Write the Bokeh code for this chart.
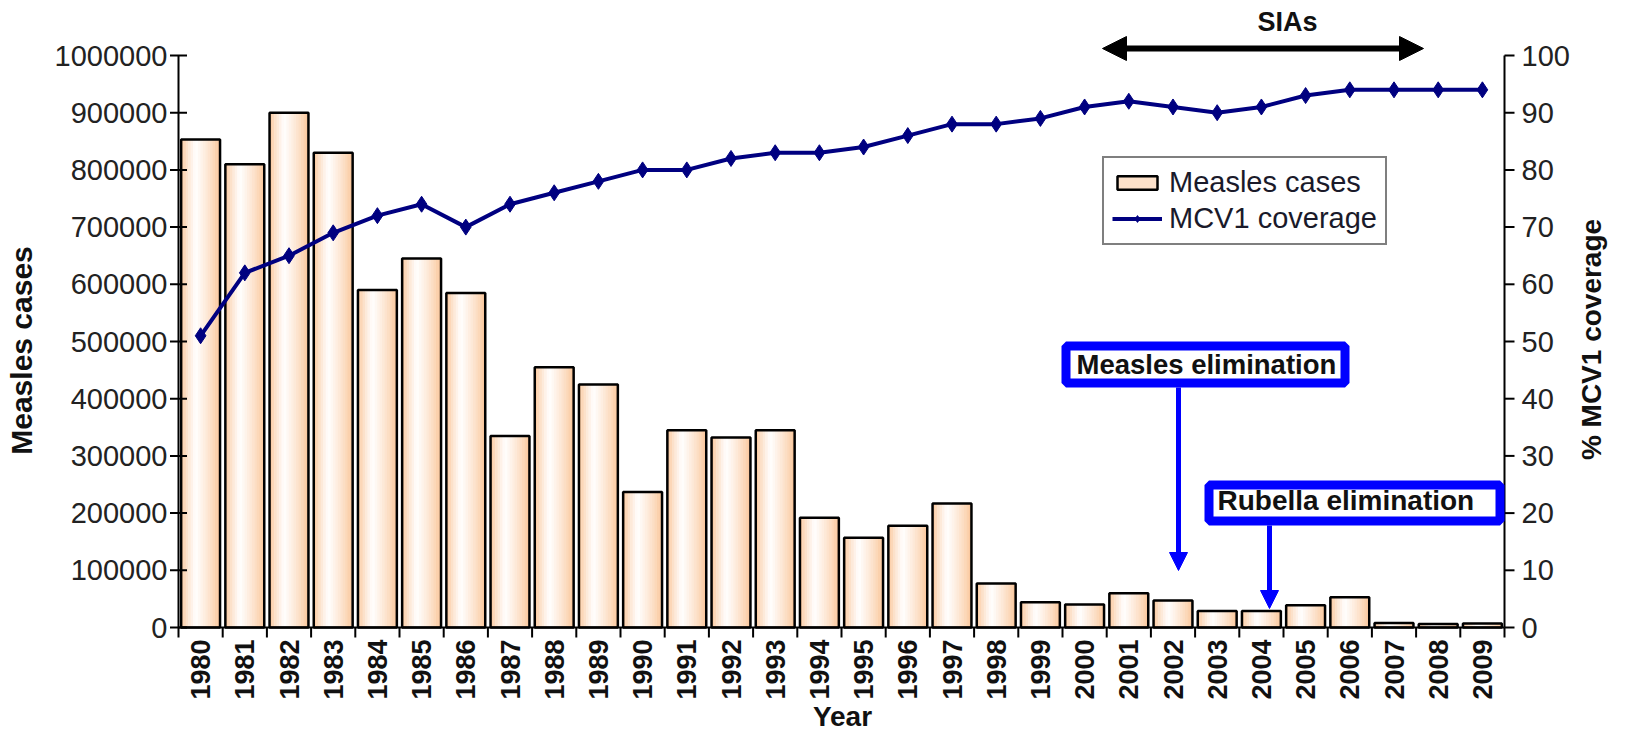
import numpy as np
from bokeh.plotting import figure
from bokeh.models import (Range1d, Legend, LegendItem, Arrow, NormalHead, Label, BoxAnnotation)
from bokeh.core.properties import value
from bokeh.embed import file_html
from bokeh.resources import INLINE

# ---------------- data ----------------
years = [str(y) for y in range(1980, 2010)]
measles_cases = [853000, 810000, 900000, 830000, 590000, 645000, 585000, 335000, 455000, 425000,
                 237000, 345000, 332000, 345000, 192000, 157000, 178000, 217000, 77000, 44000,
                 40000, 60000, 47000, 29000, 29000, 39000, 53000, 8000, 6000, 7000]
mcv1_coverage = [51, 62, 65, 69, 72, 74, 70, 74, 76, 78, 80, 80, 82, 83, 83, 84, 86, 88, 88, 89,
                 91, 92, 91, 90, 91, 93, 94, 94, 94, 94]
left_ticks = list(range(0, 1000001, 100000))
right_ticks = list(range(0, 101, 10))

# ---------------- layout (pixel geometry of the canvas) ----------------
W, H = 1612, 732
PX_LEFT, PX_CAT, PX_ZERO, PX_MILLION = 178, 44.2, 627, 572.0


def X(px):
    return (px - PX_LEFT) / PX_CAT - 0.5


def Y(py):
    return (PX_ZERO - py) / PX_MILLION * 1e6


FONT = "Liberation Sans"
TXT = "#111111"
n = len(years)
idx = np.arange(n)
x_lo, x_hi = -0.5, n - 0.5

p = figure(width=W, height=H, x_range=Range1d(X(0), X(W)), y_range=Range1d(Y(H), Y(0)),
           x_axis_type=None, y_axis_type=None, output_backend="svg", toolbar_location=None,
           min_border=0, min_border_left=0, min_border_right=0, min_border_top=0,
           min_border_bottom=0)
p.outline_line_color = None
p.grid.visible = False
p.extra_y_ranges = {"cov": Range1d(Y(H) / 10000, Y(0) / 10000)}

# ---- bars with horizontal gradient (peach -> white -> peach) ----
BAR_W = 0.88
N = 16
peach = np.array([250, 196, 150])
white = np.array([255, 255, 255])
strip_renderers = []
for k in range(N):
    t = (k + 0.5) / N
    f = t / 0.38 if t < 0.38 else 1 - (t - 0.38) / 0.62
    f = f ** 0.8
    c = peach + (white - peach) * f
    col = "#%02x%02x%02x" % tuple(int(round(v)) for v in c)
    off = -BAR_W / 2 + (k + 0.5) * BAR_W / N
    r = p.vbar(x=idx + off, top=measles_cases, width=BAR_W / N * 1.2, bottom=0,
               fill_color=col, line_color=None)
    strip_renderers.append((t, r))
outline = p.vbar(x=idx, top=measles_cases, width=BAR_W, bottom=0,
                 fill_color=None, line_color="black", line_width=2.5)
legend_strip = min(strip_renderers, key=lambda tr: abs(tr[0] - 0.15))[1]

# ---- coverage line ----
ln = p.line(idx, mcv1_coverage, y_range_name="cov", line_color="#000080", line_width=4)
sc = p.scatter(idx, mcv1_coverage, y_range_name="cov", marker="diamond", size=16,
               fill_color="#000080", line_color="#000080")

# ---- left axis (measles cases) ----
p.segment(x0=[x_lo], y0=[0], x1=[x_lo], y1=[left_ticks[-1]], line_color="black", line_width=2)
p.scatter(x=[x_lo] * len(left_ticks), y=left_ticks, marker="dash", size=17,
          line_color="black", line_width=2)
p.text(x=[x_lo] * len(left_ticks), y=left_ticks, text=[str(v) for v in left_ticks],
       x_offset=-11, text_align="right", text_baseline="middle", text_font=value(FONT),
       text_font_size="29px", text_color="#222222")
p.add_layout(Label(x=X(21), y=Y(350), text="Measles cases", angle=np.pi / 2,
                   text_align="center", text_baseline="middle", text_font=FONT,
                   text_font_style="bold", text_font_size="30px", text_color=TXT))

# ---- right axis (% coverage) ----
p.segment(x0=[x_hi], y0=[0], x1=[x_hi], y1=[right_ticks[-1]], y_range_name="cov",
          line_color="black", line_width=2)
p.ray(x=[x_hi] * len(right_ticks), y=right_ticks, length=10, length_units="screen", angle=0,
      y_range_name="cov", line_color="black", line_width=2)
p.text(x=[x_hi] * len(right_ticks), y=right_ticks, text=[str(v) for v in right_ticks],
       y_range_name="cov", x_offset=17, text_align="left", text_baseline="middle",
       text_font=value(FONT), text_font_size="29px", text_color="#222222")
p.add_layout(Label(x=X(1591), y=Y(339), text="% MCV1 coverage", angle=np.pi / 2,
                   text_align="center", text_baseline="middle", text_font=FONT,
                   text_font_style="bold", text_font_size="28px", text_color=TXT))

# ---- bottom axis (years) ----
p.segment(x0=[x_lo], y0=[0], x1=[x_hi], y1=[0], line_color="black", line_width=2)
bounds = [i - 0.5 for i in range(n + 1)]
p.ray(x=bounds, y=[0] * len(bounds), length=10, length_units="screen", angle=-np.pi / 2,
      line_color="black", line_width=2)
p.text(x=idx, y=[0] * n, text=years, angle=np.pi / 2, y_offset=12, text_align="right",
       text_baseline="middle", text_font=value(FONT), text_font_style="bold",
       text_font_size="27px", text_color=TXT)
p.add_layout(Label(x=X(842), y=Y(716), text="Year", text_align="center",
                   text_baseline="middle", text_font=FONT, text_font_style="bold",
                   text_font_size="28px", text_color=TXT))

# ---- legend ----
legend = Legend(items=[LegendItem(label="Measles cases", renderers=[legend_strip, outline]),
                       LegendItem(label="MCV1 coverage", renderers=[ln, sc])],
                location=(1102, H - 245))
legend.border_line_color = "black"
legend.border_line_width = 2
legend.background_fill_color = "white"
legend.background_fill_alpha = 1
legend.label_text_font = FONT
legend.label_text_font_size = "29px"
legend.label_text_color = "#1a1a2a"
legend.glyph_width = 50
legend.glyph_height = 17
legend.label_height = 28
legend.spacing = 3
legend.padding = 8
legend.label_standoff = 7
legend.margin = 0
p.add_layout(legend)

# ---- annotations ----
BLUE = "#0000FF"
p.add_layout(Arrow(x_start=X(1102), y_start=Y(48), x_end=X(1423), y_end=Y(48),
                   line_color="black", line_width=6,
                   start=NormalHead(size=24, fill_color="black", line_color="black"),
                   end=NormalHead(size=24, fill_color="black", line_color="black")))
p.add_layout(Label(x=X(1287), y=Y(21), text="SIAs", text_align="center",
                   text_baseline="middle", text_font=FONT, text_font_style="bold",
                   text_font_size="27px", text_color=TXT))

# Measles elimination
p.add_layout(BoxAnnotation(left=X(1065.5), right=X(1344.5), bottom=Y(382.5), top=Y(345.5),
                           line_color=BLUE, line_alpha=1, line_width=9,
                           fill_color="white", fill_alpha=1))
p.add_layout(Arrow(x_start=X(1178), y_start=Y(387), x_end=X(1178), y_end=Y(570),
                   line_color=BLUE, line_width=5,
                   end=NormalHead(size=18, fill_color=BLUE, line_color=BLUE)))
p.add_layout(Label(x=X(1076), y=Y(364), text="Measles elimination", text_baseline="middle",
                   text_font=FONT, text_font_style="bold", text_font_size="27.5px",
                   text_color=TXT))

# Rubella elimination
p.add_layout(BoxAnnotation(left=X(1208.5), right=X(1499.5), bottom=Y(520.5), top=Y(484.5),
                           line_color=BLUE, line_alpha=1, line_width=9,
                           fill_color="white", fill_alpha=1))
p.add_layout(Arrow(x_start=X(1269), y_start=Y(525), x_end=X(1269), y_end=Y(608),
                   line_color=BLUE, line_width=5,
                   end=NormalHead(size=18, fill_color=BLUE, line_color=BLUE)))
p.add_layout(Label(x=X(1217), y=Y(500), text="Rubella elimination", text_baseline="middle",
                   text_font=FONT, text_font_style="bold", text_font_size="28px",
                   text_color=TXT))

open("out.html", "w").write(file_html(p, INLINE))
